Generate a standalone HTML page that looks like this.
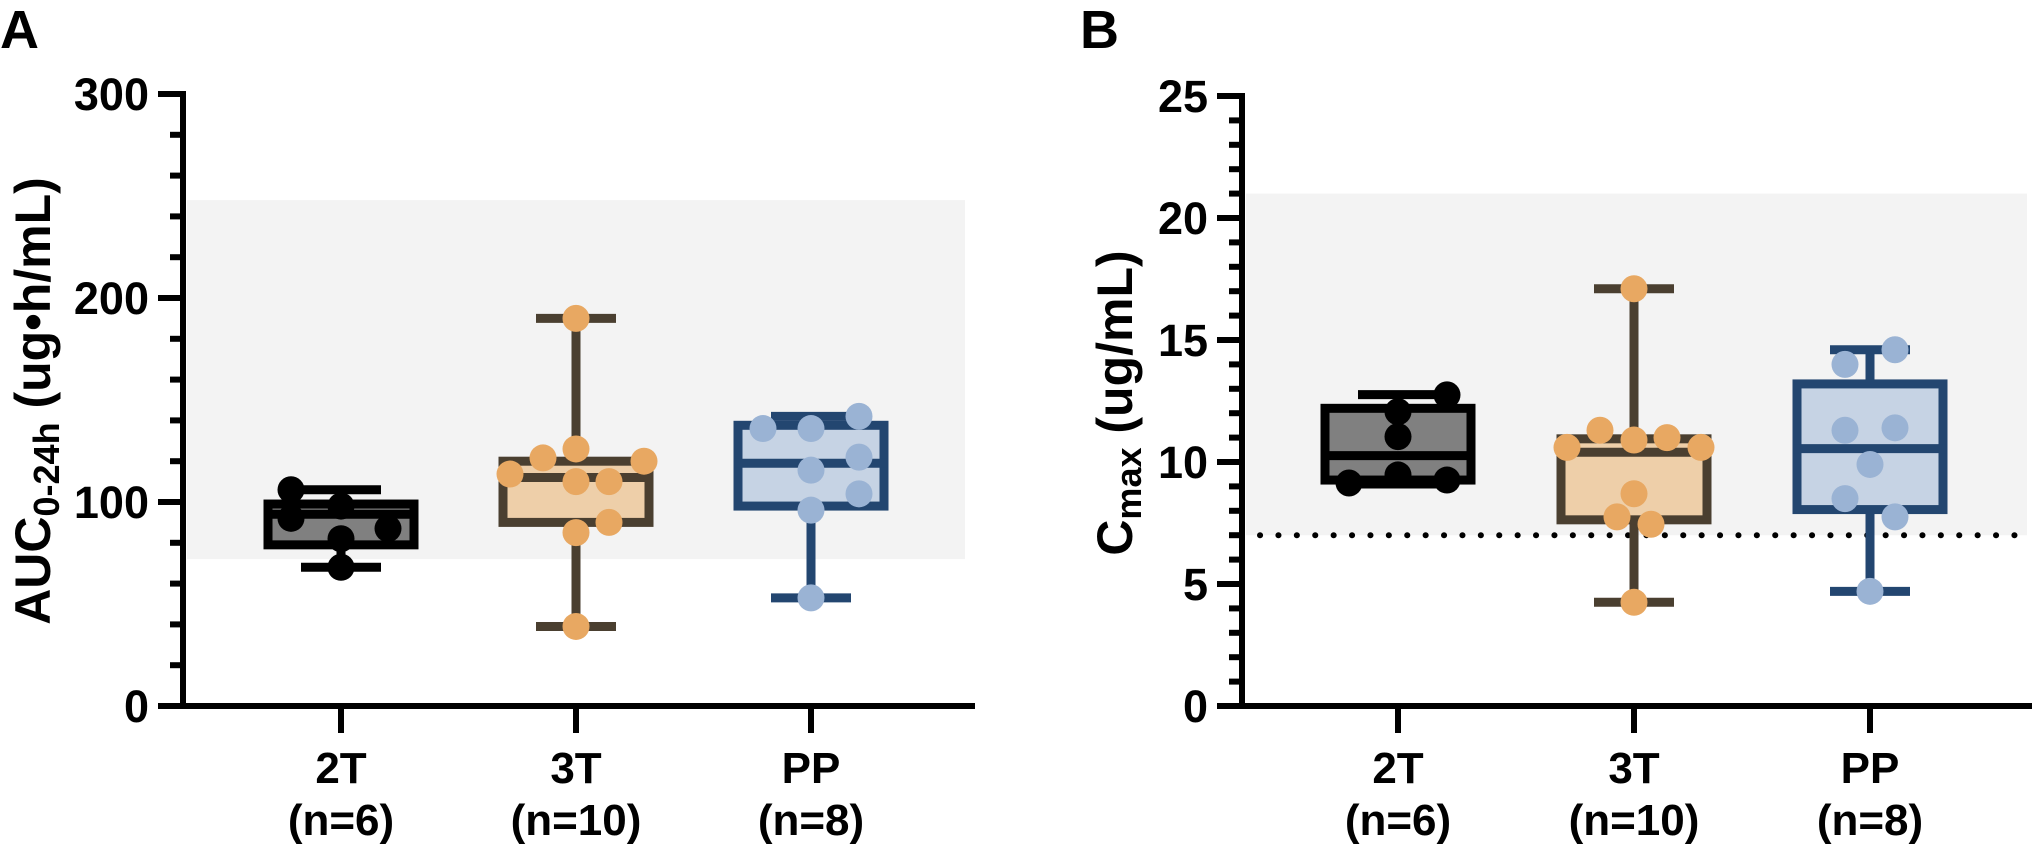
<!DOCTYPE html>
<html><head><meta charset="utf-8"><style>
html,body{margin:0;padding:0;background:#fff;}
svg{display:block;font-family:"Liberation Sans",sans-serif;font-weight:bold;}
</style></head><body>
<svg id="chart" width="2032" height="845" viewBox="0 0 2032 845" xmlns="http://www.w3.org/2000/svg">
<text x="0" y="48" font-size="54">A</text>
<text x="1080" y="48" font-size="54">B</text>
<text transform="translate(50,401) rotate(-90)" text-anchor="middle" font-size="50">AUC<tspan font-size="36" dy="9">0-24h</tspan><tspan dy="-9"> (ug•h/mL)</tspan></text>
<text transform="translate(1132,403) rotate(-90)" text-anchor="middle" font-size="50">C<tspan font-size="36" dy="9">max</tspan><tspan dy="-9"> (ug/mL)</tspan></text>
<g id="panelA"></g>
<g id="panelB"></g>
</svg>
<script>
const categories = ["2T","3T","PP"];
const nLabels = ["(n=6)","(n=10)","(n=8)"];
// Panel A: AUC
const aucTicks = [0,100,200,300];
const aucBoxes = [ // [min, q1, median, q3, max]
  [68, 79, 94, 99, 106],
  [39, 90, 112, 120, 190],
  [53, 98, 119, 137.6, 142]
];
const aucPoints2T = [106, 92, 98, 87, 82, 68];
const aucPoints3T = [190, 113.7, 121.6, 126, 120, 110, 110, 90, 85, 39];
const aucPointsPP = [136, 136, 142, 122, 115.6, 104, 96, 53];
const aucRange = [72, 248];
// Panel B: Cmax
const cmaxTicks = [0,5,10,15,20,25];
const cmaxBoxes = [
  [9.1, 9.26, 10.26, 12.2, 12.76],
  [4.25, 7.63, 10.4, 10.95, 17.1],
  [4.7, 8.05, 10.55, 13.2, 14.6]
];
const cmaxPoints2T = [9.14, 9.47, 9.26, 11.04, 12.06, 12.75];
const cmaxPoints3T = [17.1, 10.6, 11.3, 10.9, 11.0, 10.6, 8.7, 7.75, 7.45, 4.25];
const cmaxPointsPP = [14.0, 14.6, 11.3, 11.4, 9.9, 8.5, 7.75, 4.7];
const cmaxRange = [7, 21];
const cmaxThreshold = [7];

const NS="http://www.w3.org/2000/svg";
const styles=[{s:"#000",f:"#808080",d:"#000"},{s:"#4a3f30",f:"#eecfa9",d:"#e8a862"},{s:"#234670",f:"#c6d3e4",d:"#9ab3d4"}];
function mk(p,t,a){const e=document.createElementNS(NS,t);for(const k in a)e.setAttribute(k,a[k]);p.appendChild(e);return e;}

function drawPanel(g,cfg){
  const y=v=>cfg.y0-(v/cfg.max)*(cfg.y0-cfg.yTop);
  const x=i=>cfg.x0+i*cfg.step;
  const sh=mk(g,"rect",{x:cfg.ax+4,y:y(cfg.range[1]),width:cfg.shadeRight-cfg.ax-4,height:y(cfg.range[0])-y(cfg.range[1]),fill:"#f3f3f3"});
  
  
  if(cfg.thr){cfg.thr.forEach(t=>{
    const l=mk(g,"line",{x1:cfg.ax+18,x2:cfg.shadeRight,y1:y(t),y2:y(t),stroke:"#000","stroke-width":6,"stroke-linecap":"round","stroke-dasharray":"0.1 18.3"});
    
    
  });}
  const ya=mk(g,"line",{x1:cfg.ax,x2:cfg.ax,y1:cfg.yTop-3,y2:cfg.y0+3,stroke:"#000","stroke-width":6});
  
  
  const xa=mk(g,"line",{x1:cfg.ax-25,x2:cfg.xEnd,y1:cfg.y0,y2:cfg.y0,stroke:"#000","stroke-width":6});
  
  
  for(let v=0;v<=cfg.max+1e-9;v+=cfg.minor){
    const major=cfg.ticks.some(t=>Math.abs(t-v)<1e-6);
    const t=mk(g,"line",{x1:cfg.ax-(major?25:13),x2:cfg.ax,y1:y(v),y2:y(v),stroke:"#000","stroke-width":6});
    
    
  }
  cfg.ticks.forEach(v=>{
    const t=mk(g,"text",{x:cfg.ax-34,y:y(v)+16,"text-anchor":"end","font-size":45});
    t.textContent=v;
    
    
  });
  categories.forEach((c,i)=>{
    const st=styles[i], b=cfg.boxes[i], cx=x(i);
    const tk=mk(g,"line",{x1:cx,x2:cx,y1:cfg.y0,y2:cfg.y0+27,stroke:"#000","stroke-width":6});
    
    
    const l1=mk(g,"text",{x:cx,y:783,"text-anchor":"middle","font-size":44});l1.textContent=c;
    
    
    const l2=mk(g,"text",{x:cx,y:835,"text-anchor":"middle","font-size":44});l2.textContent=nLabels[i];
    
    
    const bg=mk(g,"g",{});
    
    
    const w1=mk(bg,"line",{x1:cx,x2:cx,y1:y(b[4]),y2:y(b[0]),stroke:st.s,"stroke-width":9});
    
    
    [b[0],b[4]].forEach(v=>{const cp=mk(bg,"line",{x1:cx-40,x2:cx+40,y1:y(v),y2:y(v),stroke:st.s,"stroke-width":9});
      
      });
    const r=mk(bg,"rect",{x:cx-73,y:y(b[3]),width:146,height:y(b[1])-y(b[3]),fill:st.f,stroke:st.s,"stroke-width":9});
    
    
    const md=mk(bg,"line",{x1:cx-77,x2:cx+77,y1:y(b[2]),y2:y(b[2]),stroke:st.s,"stroke-width":9});
    
    
    const pts=cfg.points[i], off=cfg.offsets[i];
    pts.forEach((v,j)=>{
      const d=mk(bg,"circle",{cx:cx+off[j],cy:y(v),r:13.5,fill:st.d});
      
      
    });
  });
}
drawPanel(document.getElementById("panelA"),{ax:183,y0:706,yTop:94,max:300,minor:20,ticks:aucTicks,x0:341,step:235,xEnd:975,shadeRight:965,
  range:aucRange,boxes:aucBoxes,points:[aucPoints2T,aucPoints3T,aucPointsPP],
  offsets:[[-50,-50,0,47,0,0],[0,-66,-33,0,68,0,33,33,0,0],[-48,0,48,48,0,48,0,0]]});
drawPanel(document.getElementById("panelB"),{ax:1242,y0:706,yTop:96,max:25,minor:1,ticks:cmaxTicks,x0:1398,step:236,xEnd:2032,shadeRight:2027,
  range:cmaxRange,thr:cmaxThreshold,boxes:cmaxBoxes,points:[cmaxPoints2T,cmaxPoints3T,cmaxPointsPP],
  offsets:[[-49,0,49,0,0,49],[0,-67,-34,0,33,67,0,-17,17,0],[-25,25,-25,25,0,-25,25,0]]});
</script>
</body></html>
